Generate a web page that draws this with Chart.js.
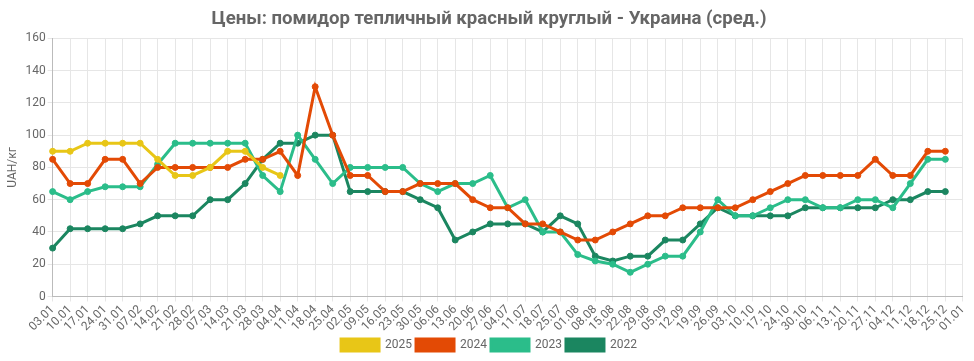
<!DOCTYPE html>
<html>
<head>
<meta charset="utf-8">
<script src="https://cdn.jsdelivr.net/npm/chart.js@4"></script>
<style>
html,body{margin:0;padding:0;background:#fff;}
#wrap{width:974px;height:361px;position:relative;}
</style>
</head>
<body>
<div id="wrap"><canvas id="c" width="974" height="361"></canvas></div>
<script>
const labels = ["03.01","10.01","17.01","24.01","31.01","07.02","14.02","21.02","28.02","07.03","14.03","21.03","28.03","04.04","11.04","18.04","25.04","02.05","09.05","16.05","23.05","30.05","06.06","13.06","20.06","27.06","04.07","11.07","18.07","25.07","01.08","08.08","15.08","22.08","29.08","05.09","12.09","19.09","26.09","03.10","10.10","17.10","24.10","30.10","06.11","13.11","20.11","27.11","04.12","11.12","18.12","25.12","01.01"];

const s2025 = [90,90,95,95,95,95,85,75,75,80,90,90,80,75,null,null,null,null,null,null,null,null,null,null,null,null,null,null,null,null,null,null,null,null,null,null,null,null,null,null,null,null,null,null,null,null,null,null,null,null,null,null,null];
const s2024 = [85,70,70,85,85,70,80,80,80,80,80,85,85,90,75,130,100,75,75,65,65,70,70,70,60,55,55,45,45,40,35,35,40,45,50,50,55,55,55,55,60,65,70,75,75,75,75,85,75,75,90,90,null];
const s2023 = [65,60,65,68,68,68,82,95,95,95,95,95,75,65,100,85,70,80,80,80,80,70,65,70,70,75,55,60,40,40,26,22,20,15,20,25,25,40,60,50,50,55,60,60,55,55,60,60,55,70,85,85,null];
const s2022 = [30,42,42,42,42,45,50,50,50,60,60,70,85,95,95,100,100,65,65,65,65,60,55,35,40,45,45,45,40,50,45,25,22,25,25,35,35,45,55,50,50,50,50,55,55,55,55,55,60,60,65,65,null];

const seriesNames = ["2025","2024","2023","2022"];
const seriesColors = ["#E8C617","#E34A05","#2BBD8A","#1B8660"];
const seriesData = [s2025,s2024,s2023,s2022];

Chart.defaults.font.family = "Roboto, 'Noto Sans', sans-serif";
Chart.defaults.color = "#666";

new Chart(document.getElementById('c'), {
  type: 'line',
  data: {
    labels: labels,
    datasets: seriesNames.map((n,i)=>({
      label: n,
      data: seriesData[i],
      borderColor: seriesColors[i],
      backgroundColor: seriesColors[i],
      pointBackgroundColor: seriesColors[i],
      pointBorderColor: seriesColors[i],
      borderWidth: 3,
      pointRadius: 3,
      pointBorderWidth: 1,
      tension: 0,
      fill: false,
      spanGaps: false
    }))
  },
  options: {
    responsive: false,
    animation: false,
    layout: {padding: {left: 6, right: 2, top: 4, bottom: 0}},
    plugins: {
      title: {
        display: true,
        text: "Цены: помидор тепличный красный круглый - Украина (сред.)",
        font: {size: 18.6, weight: 'bold'},
        color: '#666',
        padding: {top: 4, bottom: 8}
      },
      legend: {
        position: 'bottom',
        labels: {boxWidth: 38, boxHeight: 12, font: {size: 12}, color: '#666', padding: 4}
      },
      tooltip: {enabled: false}
    },
    scales: {
      x: {
        ticks: {autoSkip: false, maxRotation: 45, minRotation: 45, font: {size: 12}, color: '#666', padding: 1},
        grid: {color: '#e6e6e6', tickLength: 5},
        border: {color: '#bbb'}
      },
      y: {
        min: 0, max: 160,
        ticks: {stepSize: 20, font: {size: 12}, color: '#666', padding: 2},
        grid: {color: '#e6e6e6', tickLength: 5},
        border: {color: '#bbb'},
        title: {display: true, text: "UAH/кг", font: {size: 12}, color: '#666', padding: {top: 0, bottom: 3}}
      }
    }
  }
});
</script>
</body>
</html>
